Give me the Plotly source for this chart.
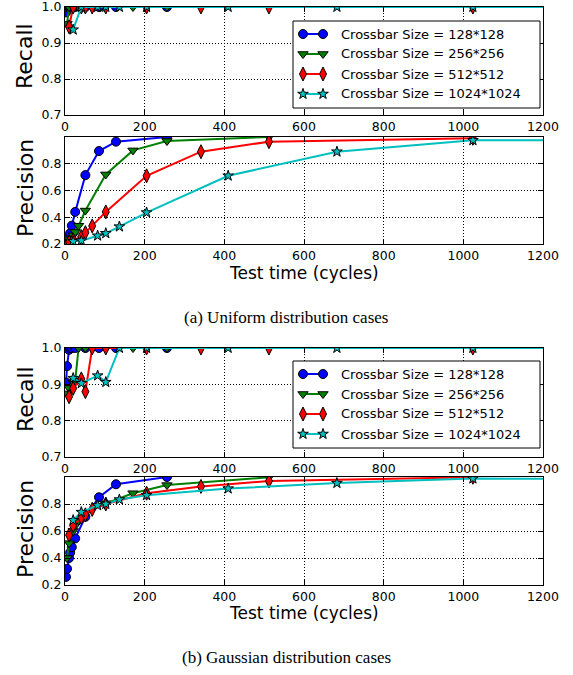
import plotly.graph_objects as go

# ---------------- data ----------------
series_names = ["Crossbar Size = 128*128", "Crossbar Size = 256*256",
                "Crossbar Size = 512*512", "Crossbar Size = 1024*1024"]
colors = ["#0000ff", "#008000", "#ff0000", "#00bfbf"]
symbols = ["circle", "triangle-down", "diamond-tall", "star"]
msizes = [9, 9, 10, 8]

# test time (cycles) for each crossbar size
x_128 = [2.56, 5.12, 10.24, 12.8, 17.07, 25.6, 51.2, 85.33, 128, 256]
x_256 = [5.12, 10.24, 20.48, 25.6, 34.13, 51.2, 102.4, 170.67, 256, 512]
x_512 = [10.24, 20.48, 40.96, 51.2, 68.27, 102.4, 204.8, 341.33, 512, 1024]
x_1024 = [20.48, 40.96, 81.92, 102.4, 136.53, 204.8, 409.6, 682.67, 1024, 2048]

# (a) Uniform distribution
uni_recall_128 = [0.985, 1.0, 1.0, 1.0, 1.0, 1.0, 1.0, 1.0, 1.0, 1.0]
uni_recall_256 = [0.953, 1.0, 1.0, 1.0, 1.0, 1.0, 1.0, 1.0, 1.0, 1.0]
uni_recall_512 = [0.945, 1.0, 1.0, 1.0, 1.0, 1.0, 1.0, 1.0, 1.0, 1.0]
uni_recall_1024 = [0.937, 1.0, 1.0, 1.0, 1.0, 1.0, 1.0, 1.0, 1.0, 1.0]

uni_prec_128 = [0.21, 0.225, 0.255, 0.28, 0.337, 0.44, 0.715, 0.895, 0.965, 1.0]
uni_prec_256 = [0.21, 0.235, 0.265, 0.29, 0.337, 0.45, 0.72, 0.90, 0.97, 1.0]
uni_prec_512 = [0.215, 0.23, 0.255, 0.285, 0.335, 0.44, 0.71, 0.89, 0.965, 0.99]
uni_prec_1024 = [0.22, 0.225, 0.262, 0.28, 0.33, 0.435, 0.71, 0.89, 0.975, 0.98]

# (b) Gaussian distribution
gau_recall_128 = [0.905, 0.95, 0.995, 1.0, 1.0, 1.0, 1.0, 1.0, 1.0, 1.0]
gau_recall_256 = [0.875, 0.89, 0.905, 0.91, 1.0, 1.0, 1.0, 1.0, 1.0, 1.0]
gau_recall_512 = [0.866, 0.889, 0.915, 0.88, 1.0, 1.0, 1.0, 1.0, 1.0, 1.0]
gau_recall_1024 = [0.917, 0.903, 0.924, 0.906, 1.0, 1.0, 1.0, 1.0, 1.0, 1.0]

gau_prec_128 = [0.26, 0.32, 0.40, 0.44, 0.48, 0.545, 0.705, 0.85, 0.946, 1.0]
gau_prec_256 = [0.40, 0.51, 0.60, 0.64, 0.68, 0.73, 0.805, 0.88, 0.94, 0.998]
gau_prec_512 = [0.57, 0.64, 0.70, 0.72, 0.76, 0.80, 0.88, 0.93, 0.97, 0.998]
gau_prec_1024 = [0.68, 0.74, 0.79, 0.80, 0.833, 0.865, 0.914, 0.955, 0.988, 0.985]

recall_ticks = [0.7, 0.8, 0.9, 1.0]
precision_ticks = [0.2, 0.4, 0.6, 0.8]
x_ticks = [0, 200, 400, 600, 800, 1000, 1200]

xs = [x_128, x_256, x_512, x_1024]
panels = [
    [uni_recall_128, uni_recall_256, uni_recall_512, uni_recall_1024],
    [uni_prec_128, uni_prec_256, uni_prec_512, uni_prec_1024],
    [gau_recall_128, gau_recall_256, gau_recall_512, gau_recall_1024],
    [gau_prec_128, gau_prec_256, gau_prec_512, gau_prec_1024],
]

W, H = 573, 675
FONT = "DejaVu Sans"

def py(px):
    return 1 - px / H

x_dom = [65 / W, 543 / W]
y_doms = [
    [py(115), py(7)],
    [py(244), py(137)],
    [py(457), py(348)],
    [py(585), py(477)],
]

fig = go.Figure()

for i, ys in enumerate(panels):
    ax = "" if i == 0 else str(i + 1)
    for k in range(4):
        fig.add_trace(go.Scatter(
            x=xs[k], y=ys[k], mode="lines+markers", name=series_names[k],
            line=dict(color=colors[k], width=2),
            marker=dict(symbol=symbols[k], size=msizes[k], color=colors[k],
                        line=dict(color="black", width=1)),
            xaxis="x" + ax, yaxis="y" + ax, showlegend=False,
        ))

# ---- matplotlib-style legends (box + two-marker handles) on a pixel overlay axis ----
legend_tops = [21, 361]           # box top (px)
row_gap = 20
annotations = []
for top in legend_tops:
    box_l, box_r, box_t, box_b = 293, 540, top, top + 87
    fig.add_trace(go.Scatter(
        x=[box_l, box_r, box_r, box_l, box_l], y=[box_t, box_t, box_b, box_b, box_t],
        mode="lines", fill="toself", fillcolor="white",
        line=dict(color="black", width=1), xaxis="x5", yaxis="y5",
        showlegend=False, hoverinfo="skip"))
    for k in range(4):
        ry = top + 13 + k * row_gap
        fig.add_trace(go.Scatter(
            x=[303, 323], y=[ry, ry], mode="lines+markers",
            line=dict(color=colors[k], width=2),
            marker=dict(symbol=symbols[k], size=msizes[k], color=colors[k],
                        line=dict(color="black", width=1)),
            xaxis="x5", yaxis="y5", showlegend=False, hoverinfo="skip",
            cliponaxis=False))
        annotations.append(dict(
            text=series_names[k], x=339 / W, y=py(ry), xref="paper", yref="paper",
            xanchor="left", yanchor="middle", showarrow=False,
            font=dict(family=FONT, size=13, color="black")))

axis_common = dict(
    showline=True, linecolor="black", linewidth=1, mirror="allticks",
    ticks="inside", ticklen=5, tickcolor="black", tickwidth=1,
    showgrid=True, gridcolor="black", gridwidth=1, griddash="1px,2px",
    zeroline=False, automargin=False, ticklabeloverflow="allow",
    tickfont=dict(family=FONT, size=12.5, color="black"),
)

layout = dict(
    width=W, height=H, margin=dict(l=0, r=0, t=0, b=0, autoexpand=False),
    paper_bgcolor="white", plot_bgcolor="rgba(0,0,0,0)",
    font=dict(family=FONT, color="black"), showlegend=False,
)
for i in range(4):
    ax = "" if i == 0 else str(i + 1)
    layout["xaxis" + ax] = dict(
        domain=x_dom, range=[0, 1200], tickvals=x_ticks,
        anchor="y" + ax, **axis_common)
    if i in (0, 2):
        yd = dict(range=[0.7, 1.0], tickvals=recall_ticks, tickformat=".1f")
    else:
        yd = dict(range=[0.2, 1.0], tickvals=precision_ticks, tickformat=".1f")
    layout["yaxis" + ax] = dict(domain=y_doms[i], anchor="x" + ax, **yd, **axis_common)

layout["xaxis5"] = dict(domain=[0, 1], range=[0, W], visible=False, fixedrange=True,
                        anchor="y5", automargin=False)
layout["yaxis5"] = dict(domain=[0, 1], range=[H, 0], visible=False, fixedrange=True,
                        anchor="x5", automargin=False)

for txt, ycen in [("Recall", 56), ("Precision", 188), ("Recall", 399), ("Precision", 529)]:
    annotations.append(dict(
        text=txt, x=25 / W, y=py(ycen), xref="paper", yref="paper",
        xanchor="center", yanchor="middle", textangle=-90, showarrow=False,
        font=dict(family=FONT, size=22, color="black")))
for ycen in [273, 613]:
    annotations.append(dict(
        text="Test time (cycles)", x=304 / W, y=py(ycen), xref="paper", yref="paper",
        xanchor="center", yanchor="middle", showarrow=False,
        font=dict(family=FONT, size=17, color="black")))
for txt, ycen in [("(a) Uniform distribution cases", 318), ("(b) Gaussian distribution cases", 657)]:
    annotations.append(dict(
        text=txt, x=286 / W, y=py(ycen), xref="paper", yref="paper",
        xanchor="center", yanchor="middle", showarrow=False,
        font=dict(family="Liberation Serif", size=17, color="black")))
layout["annotations"] = annotations

fig.update_layout(**layout)
fig.write_html(
    "out.html",
    config={"displayModeBar": False},
    post_script="document.body.style.margin='0';document.body.style.padding='0';"
                "document.body.style.overflow='hidden';",
)
